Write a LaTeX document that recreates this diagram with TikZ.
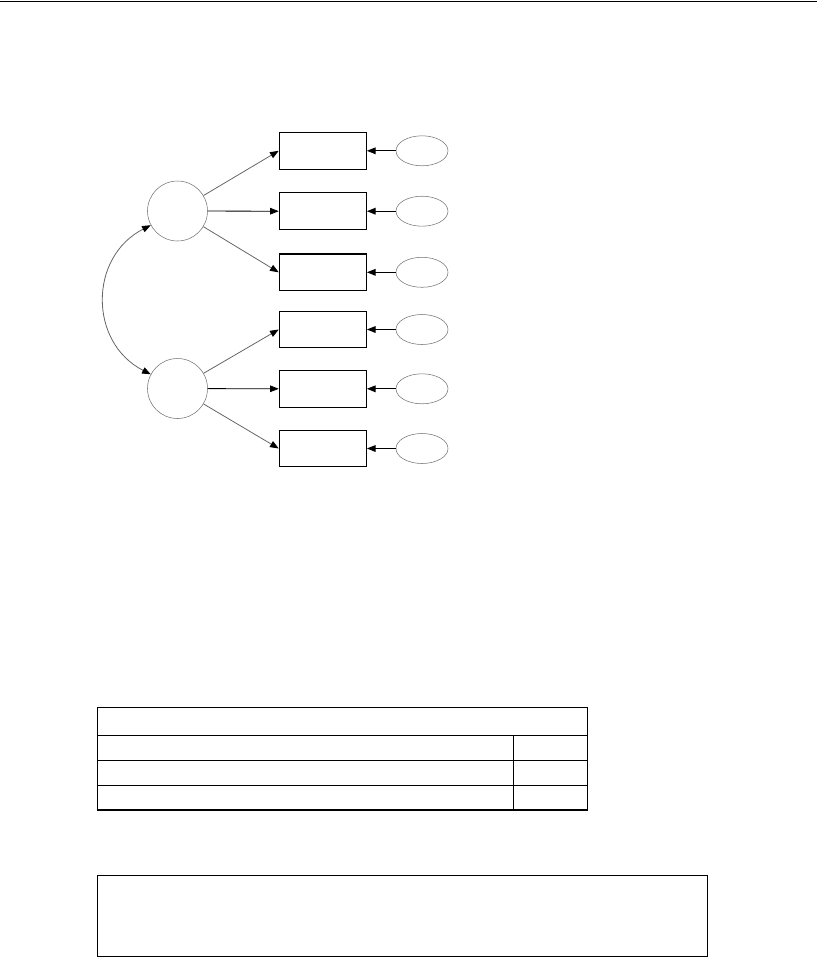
\documentclass[tikz,border=0pt]{standalone}
\usepackage{xcolor}
\usepackage{tikz}
\usetikzlibrary{arrows.meta,shapes.geometric}

\begin{document}
\begin{tikzpicture}[
    x=0.75pt, y=-0.75pt,
    latent/.style={draw=black!55, circle, minimum size=45pt, inner sep=0pt},
    indbox/.style={draw, line width=0.9pt, minimum width=65.25pt,
        minimum height=27.5pt, inner sep=0pt},
    errnode/.style={draw=black!55, ellipse, minimum width=39pt,
        minimum height=22.5pt, inner sep=0pt},
    load/.style={-{Triangle[length=6.5pt,width=5pt,color=black]}, line width=0.6pt},
    rule/.style={line width=0.9pt}
]
    \useasboundingbox (0,0) rectangle (817,957);
    \draw[rule] (0,1.5) -- (817,1.5);

    \node[latent] (fac1) at (177.5,211) {};
    \node[latent] (fac2) at (177.5,388.5) {};
    \foreach \i/\y in {1/150.8,2/211.2,3/272.3,4/329.5,5/388.8,6/448.5} {
        \node[indbox] (obs\i) at (322.8,\y) {};
        \node[errnode] (err\i) at (422,\y) {};
        \draw[load, line width=0.8pt] (err\i) -- (obs\i.east);
    }
    \foreach \i/\c in {1/black!60,2/black,3/black!60} {
        \draw[load, \c] (fac1) -- (obs\i.west);
    }
    \foreach \i/\c in {4/black!60,5/black,6/black!60} {
        \draw[load, \c] (fac2) -- (obs\i.west);
    }
    \draw[{Triangle[length=6.5pt,width=5pt,color=black]}-{Triangle[length=6.5pt,width=5pt,color=black]},
        draw=black!60, line width=0.6pt]
        (fac1.208) to[out=207, in=153, looseness=1.2] (fac2.152);

    % table
    \draw[rule] (97.3,707.3) rectangle (587.3,810);
    \foreach \y in {735.3,760.3,785.3} {
        \draw[rule] (97.3,\y) -- (587.3,\y);
    }
    \draw[rule] (513.3,735.3) -- (513.3,810);

    \draw[rule] (97.3,875.3) rectangle (707.3,956.3);
\end{tikzpicture}
\end{document}
